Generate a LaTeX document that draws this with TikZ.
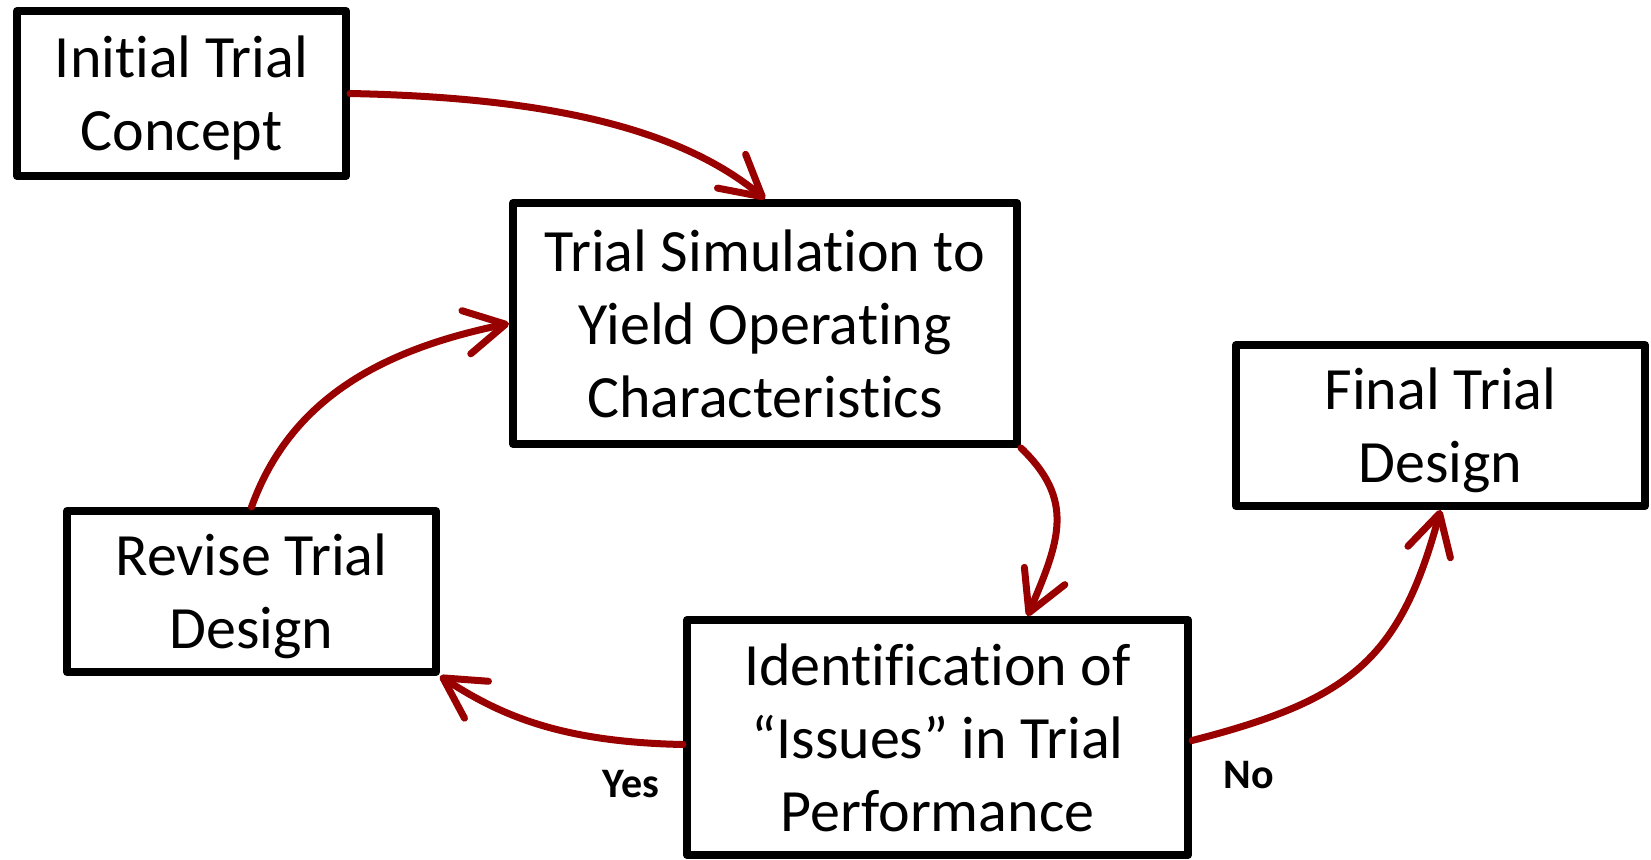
\documentclass[tikz,border=0pt]{standalone}
\usepackage{fontspec}
\setmainfont[RawFeature={-liga;-calt;-dlig;-clig}]{Carlito}
\usetikzlibrary{arrows.meta,calc}
\definecolor{arrowred}{RGB}{153,0,0}
\newcommand{\tiNoLig}{t\kern0pt i}
\begin{document}
\begin{tikzpicture}[x=1pt,y=-1pt,
  box/.style={draw=black, line width=8pt, rectangle, align=center, inner sep=0pt,
    line join=round, text depth=0pt, font=\fontsize{60}{73}\selectfont},
  conn/.style={draw=arrowred, line width=7pt, line cap=round,
    -{Straight Barb[length=40pt,width=44pt,round]}},
  lab/.style={font=\fontsize{42}{50}\selectfont\bfseries, anchor=base, inner sep=0pt}]
\useasboundingbox (0,0) rectangle (1651,859);
\node[box, minimum width=329pt, minimum height=165pt] (n1) at (181.5,93.5) {Ini\tiNoLig al Trial\\Concept};
\node[box, minimum width=504pt, minimum height=241pt] (n2) at (765,323.5) {Trial Simula\tiNoLig on to\\Yield Opera\tiNoLig ng\\Characteris\tiNoLig cs};
\node[box, minimum width=409pt, minimum height=161pt] (n3) at (1440.5,425.5) {Final Trial\\Design};
\node[box, minimum width=369pt, minimum height=161pt] (n4) at (251.5,591.5) {Revise Trial\\Design};
\node[box, minimum width=501pt, minimum height=235pt] (n5) at (937.5,737.5) {Iden\tiNoLig fica\tiNoLig on of\\“Issues” in Trial\\Performance};
\draw[conn] (n1.east) .. controls (520,97) and (670,120) .. (n2.north);
\draw[conn] (n4.north) .. controls (290,400) and (380,350) .. (n2.west);
\draw[conn] (n2.south east) .. controls (1075,500) and (1060,540) .. ([xshift=90pt]n5.north);
\draw[conn] ([yshift=-7pt]n5.west) .. controls (560,742) and (500,715) .. (n4.south east);
\draw[conn] ([yshift=-3pt]n5.east) .. controls (1350,700) and (1400,660) .. (n3.south);
\node[lab] (yes) at (631,797) {Yes};
\node[lab] (no) at (1249,788) {No};
\end{tikzpicture}
\end{document}
